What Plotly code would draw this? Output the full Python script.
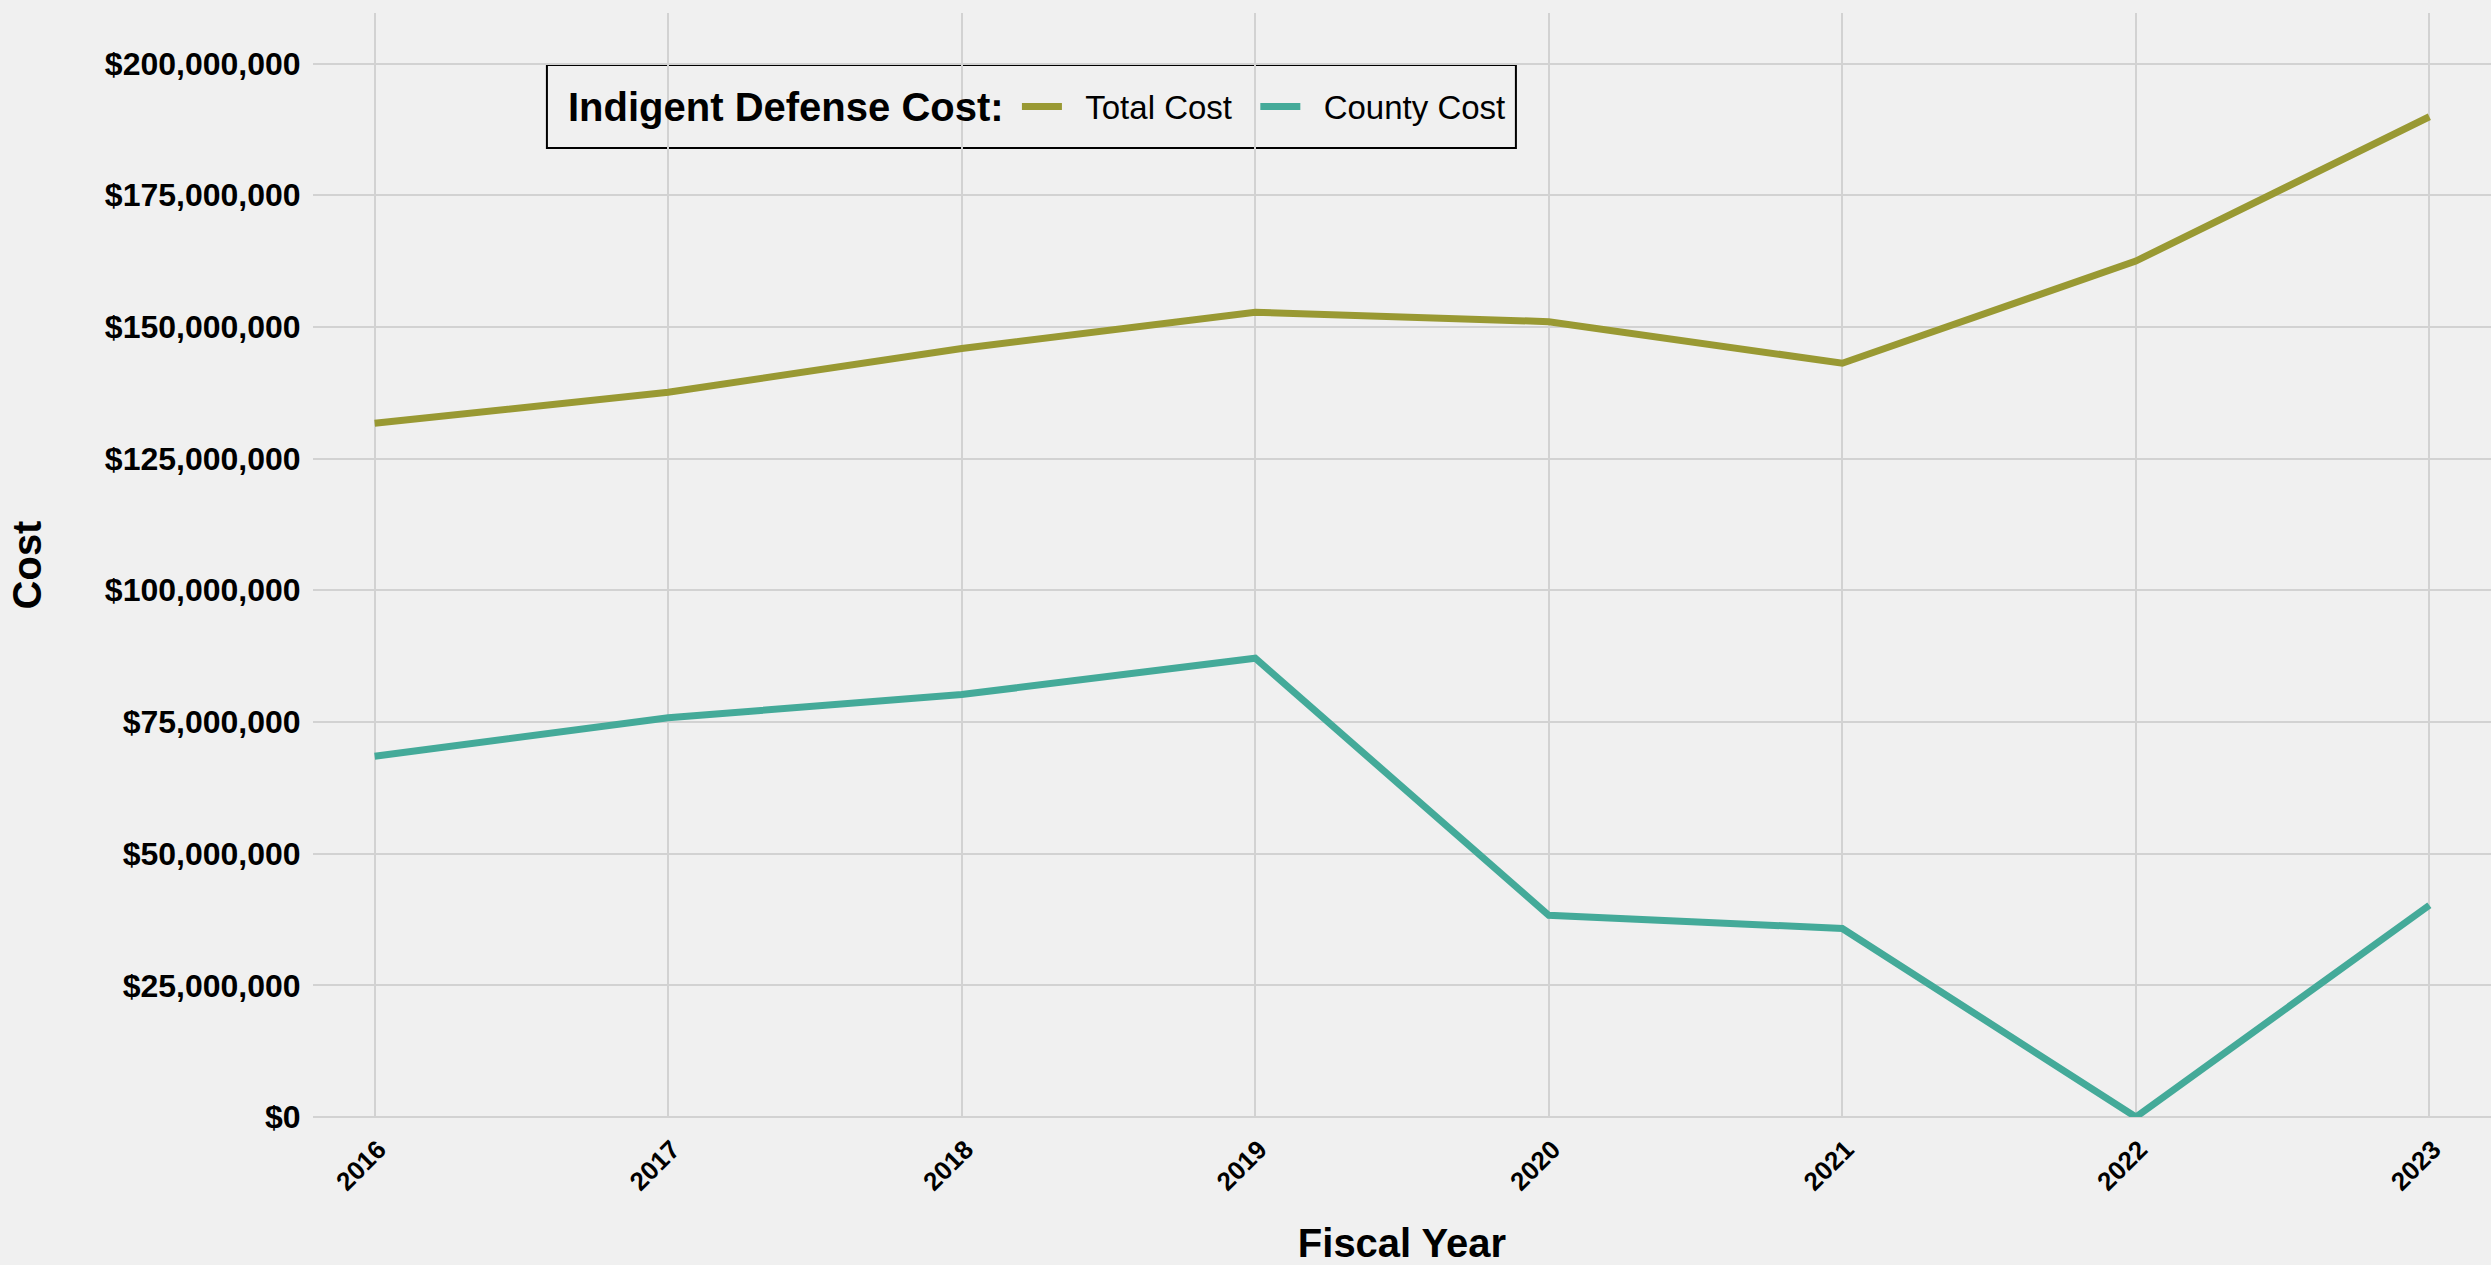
import plotly.graph_objects as go

years = [2016, 2017, 2018, 2019, 2020, 2021, 2022, 2023]
total_cost = [131.7e6, 137.6e6, 145.9e6, 152.8e6, 151.0e6, 143.1e6, 162.5e6, 189.9e6]
county_cost = [68.5e6, 75.8e6, 80.2e6, 87.1e6, 38.3e6, 35.8e6, 0.0, 40.2e6]
y_ticks = [0, 25e6, 50e6, 75e6, 100e6, 125e6, 150e6, 175e6, 200e6]
y_tick_text = ["${:,.0f}".format(v) for v in y_ticks]
series_names = ["Total Cost", "County Cost"]
legend_title = "Indigent Defense Cost:"

OLIVE = "#999933"
TEAL = "#44AA99"
BG = "#F0F0F0"
GRID = "#D2D2D2"
FONT = "Liberation Sans"
NB = "\u00a0"

fig = go.Figure()
fig.add_trace(go.Scatter(x=years, y=total_cost, mode="lines",
                         name=NB * 2 + series_names[0] + NB * 2,
                         line=dict(color=OLIVE, width=7)))
fig.add_trace(go.Scatter(x=years, y=county_cost, mode="lines",
                         name=NB * 2 + series_names[1],
                         line=dict(color=TEAL, width=7)))

# legend frame and title (plot-area fraction coords)
fig.add_shape(type="rect", xref="paper", yref="paper",
              x0=0.1074, x1=0.5523, y0=0.8777, y1=0.9529,
              line=dict(color="black", width=2), fillcolor=BG, layer="between")
fig.add_annotation(text="<b>" + legend_title + "</b>", xref="paper", yref="paper",
                   x=0.1162, y=0.9153, xanchor="left", yanchor="middle", showarrow=False,
                   font=dict(family=FONT, size=40, color="black"))

fig.update_layout(
    width=2491, height=1265,
    paper_bgcolor=BG, plot_bgcolor=BG,
    margin=dict(l=313, r=0, t=13, b=148, autoexpand=False),
    font=dict(family=FONT, color="black"),
    showlegend=True,
    legend=dict(
        orientation="h", x=0.3232, y=0.9153, xanchor="left", yanchor="middle",
        bgcolor="rgba(0,0,0,0)", borderwidth=0,
        font=dict(family=FONT, size=33, color="black"),
        itemwidth=40,
    ),
    xaxis=dict(
        range=[2015.79, 2023.21], tickmode="array", tickvals=years,
        ticktext=[str(y) for y in years], tickangle=-45, ticklabelshift=4,
        tickfont=dict(family=FONT, size=26, color="black", weight="bold"),
        showgrid=True, gridcolor=GRID, gridwidth=2,
        zeroline=False, showline=False,
        ticks="outside", ticklen=6, tickcolor="rgba(0,0,0,0)",
        title=dict(text="Fiscal Year", standoff=35,
                   font=dict(family=FONT, size=40, color="black", weight="bold")),
    ),
    yaxis=dict(
        range=[0, 209.6e6], tickmode="array", tickvals=y_ticks, ticktext=y_tick_text,
        tickfont=dict(family=FONT, size=32, color="black", weight="bold"),
        showgrid=True, gridcolor=GRID, gridwidth=2,
        zeroline=True, zerolinecolor=GRID, zerolinewidth=2, showline=False,
        ticks="outside", ticklen=5, tickcolor="rgba(0,0,0,0)",
        title=dict(text="Cost", standoff=50,
                   font=dict(family=FONT, size=40, color="black", weight="bold")),
    ),
)

fig.write_html("out.html", config={"displayModeBar": False},
               post_script="document.body.style.margin='0';")
